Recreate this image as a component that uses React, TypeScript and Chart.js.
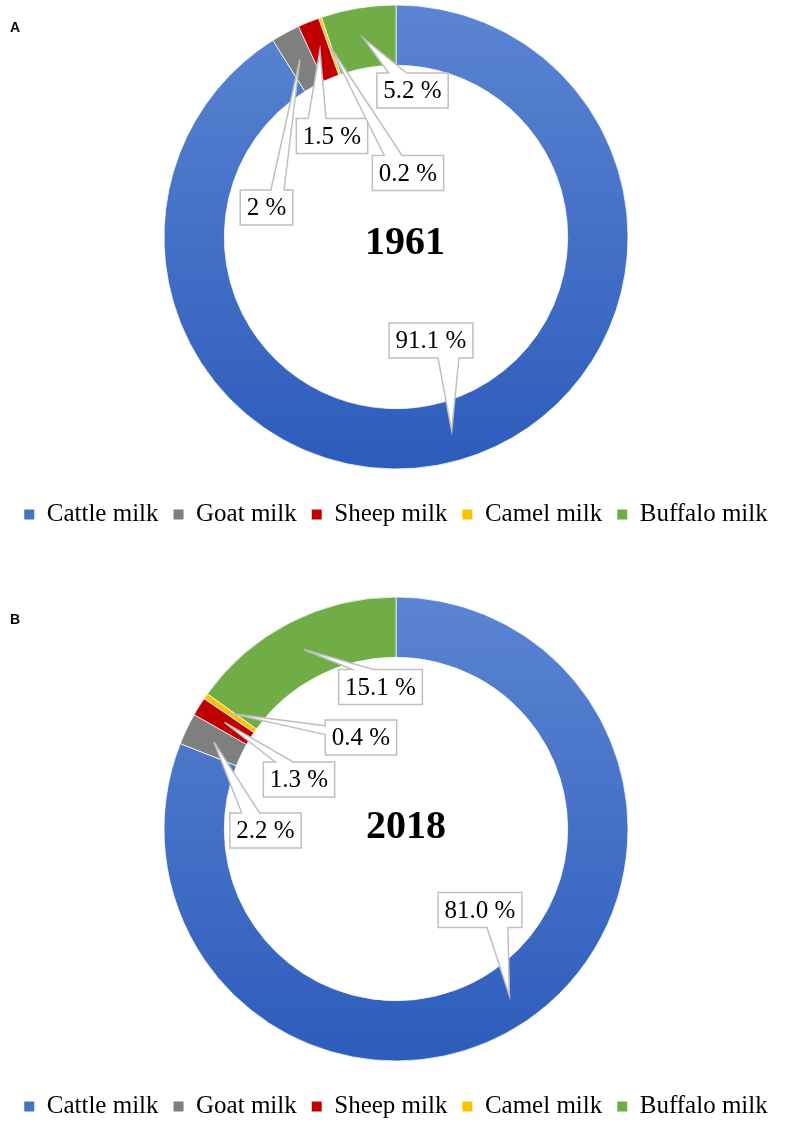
import React, { useEffect, useRef } from 'react';
import { Chart, registerables } from 'chart.js';

Chart.register(...registerables);

// ---- data ----
const categories = ['Cattle milk', 'Goat milk', 'Sheep milk', 'Camel milk', 'Buffalo milk'];
const values1961 = [91.1, 2, 1.5, 0.2, 5.2];
const values2018 = [81.0, 2.2, 1.3, 0.4, 15.1];
const years = ['1961', '2018'];
const panels = ['A', 'B'];

// ---- styles / layout ----
const sliceColors = ['#4472c4', '#7f7f7f', '#c00000', '#ffc000', '#70ad47'];
const cattleGradient = ['#5b84d2', '#2d5cbb'];
// label box centre offsets from ring centre (px)
const offsets1961 = [[35, 103.5], [-129.5, -29.5], [-64, -101], [12, -64], [16.5, -146.5]];
const offsets2018 = [[84, 81], [-130.5, 1.5], [-97, -49.5], [-35, -91.5], [-15.5, -142]];

const SERIF = '"Liberation Serif", "Times New Roman", serif';
const SANS = '"Liberation Sans", Arial, sans-serif';
const RING_R = 232;
const CANVAS_TOP = -13;
const PANEL_GAP = 592;

function calloutPath(ctx: CanvasRenderingContext2D, l: number, t: number, w: number, h: number, tx: number, ty: number) {
  const r = l + w, b = t + h;
  const hc = l + w / 2, vc = t + h / 2;
  const dxPos = tx - hc, dyPos = ty - vc;
  const dq = (dxPos * h) / w;
  const dz = Math.abs(dyPos) - Math.abs(dq);
  const x1 = l + (w * (dxPos > 0 ? 7 : 2)) / 12;
  const x2 = l + (w * (dxPos > 0 ? 10 : 5)) / 12;
  const y1 = t + (h * (dyPos > 0 ? 7 : 2)) / 12;
  const y2 = t + (h * (dyPos > 0 ? 10 : 5)) / 12;
  ctx.beginPath();
  ctx.moveTo(l, t);
  if (dz > 0 && dyPos < 0) { ctx.lineTo(x1, t); ctx.lineTo(tx, ty); ctx.lineTo(x2, t); }
  ctx.lineTo(r, t);
  if (dz <= 0 && dxPos > 0) { ctx.lineTo(r, y1); ctx.lineTo(tx, ty); ctx.lineTo(r, y2); }
  ctx.lineTo(r, b);
  if (dz > 0 && dyPos > 0) { ctx.lineTo(x2, b); ctx.lineTo(tx, ty); ctx.lineTo(x1, b); }
  ctx.lineTo(l, b);
  if (dz <= 0 && dxPos < 0) { ctx.lineTo(l, y2); ctx.lineTo(tx, ty); ctx.lineTo(l, y1); }
  ctx.closePath();
}

const calloutPlugin = {
  id: 'callouts',
  afterDatasetsDraw(chart: any, _args: any, opts: any) {
    const ctx: CanvasRenderingContext2D = chart.ctx;
    const meta = chart.getDatasetMeta(0);
    const data: number[] = chart.data.datasets[0].data;
    if (!meta.data.length) return;
    const cx = meta.data[0].x, cy = meta.data[0].y;
    ctx.save();
    ctx.font = '25px ' + SERIF;
    ctx.textAlign = 'center';
    ctx.textBaseline = 'middle';
    meta.data.forEach((arc: any, i: number) => {
      const tip = arc.getCenterPoint();
      const text = opts.format(data[i]) + ' %';
      const tw = ctx.measureText(text).width;
      const w = tw + 13, h = 35;
      const bx = cx + opts.offsets[i][0], by = cy + opts.offsets[i][1];
      const l = bx - w / 2, t = by - h / 2;
      calloutPath(ctx, l, t, w, h, tip.x, tip.y);
      ctx.fillStyle = '#ffffff';
      ctx.fill();
      ctx.lineWidth = 1.5;
      ctx.strokeStyle = '#bfbfbf';
      ctx.stroke();
      ctx.fillStyle = '#000000';
      ctx.fillText(text, bx, by + 1);
    });
    ctx.font = 'bold 40px ' + SERIF;
    ctx.fillText(opts.title, cx + opts.titleOffset[0], cy + opts.titleOffset[1]);
    ctx.font = 'bold 14px ' + SANS;
    ctx.textAlign = 'left';
    ctx.textBaseline = 'alphabetic';
    ctx.fillText(opts.panel, 10, 32 - CANVAS_TOP);
    ctx.restore();
  },
};

type PanelProps = {
  top: number;
  values: number[];
  year: string;
  panel: string;
  offsets: number[][];
  format: (v: number) => string;
  titleOffset: number[];
};

function DonutPanel({ top, values, year, panel, offsets, format, titleOffset }: PanelProps) {
  const ref = useRef<HTMLCanvasElement | null>(null);
  useEffect(() => {
    if (!ref.current) return;
    const chart = new Chart(ref.current, {
      type: 'doughnut',
      data: {
        labels: categories,
        datasets: [
          {
            data: values,
            backgroundColor: (c: any) => {
              if (c.dataIndex !== 0) return sliceColors[c.dataIndex];
              const area = c.chart.chartArea;
              if (!area) return sliceColors[0];
              const cy = (area.top + area.bottom) / 2;
              const g = c.chart.ctx.createLinearGradient(0, cy - RING_R, 0, cy + RING_R);
              g.addColorStop(0, cattleGradient[0]);
              g.addColorStop(1, cattleGradient[1]);
              return g;
            },
            borderColor: '#ffffff',
            borderWidth: 0.75,
          },
        ],
      },
      options: {
        responsive: false,
        animation: false,
        events: [],
        radius: RING_R,
        cutout: '74%',
        layout: { padding: { top: 0, left: 7, right: 0, bottom: 10 } },
        plugins: {
          tooltip: { enabled: false },
          legend: {
            display: true,
            position: 'bottom',
            labels: {
              boxWidth: 10,
              boxHeight: 10,
              padding: 15,
              color: '#000000',
              font: { family: SERIF, size: 25 },
              generateLabels: (ch: any) => {
                const items = (Chart as any).overrides.doughnut.plugins.legend.labels.generateLabels(ch);
                return items.map((it: any, i: number) => ({
                  ...it,
                  fillStyle: sliceColors[i],
                  strokeStyle: sliceColors[i],
                  lineWidth: 0,
                }));
              },
            },
          },
          callouts: { offsets, format, title: year, panel, titleOffset },
        } as any,
      } as any,
      plugins: [calloutPlugin],
    });
    return () => chart.destroy();
  }, []);
  return (
    <div style={{ position: 'absolute', left: 0, top, width: 785, height: 560 }}>
      <canvas ref={ref} width={785} height={560} style={{ width: 785, height: 560, display: 'block' }} />
    </div>
  );
}

export default function App() {
  return (
    <div
      style={{
        position: 'absolute',
        left: 0,
        top: 0,
        width: 785,
        height: 1123,
        overflow: 'hidden',
        background: '#ffffff',
      }}
    >
      <DonutPanel
        top={CANVAS_TOP}
        values={values1961}
        year={years[0]}
        panel={panels[0]}
        offsets={offsets1961}
        format={(v) => String(v)}
        titleOffset={[9, 7]}
      />
      <DonutPanel
        top={CANVAS_TOP + PANEL_GAP}
        values={values2018}
        year={years[1]}
        panel={panels[1]}
        offsets={offsets2018}
        format={(v) => v.toFixed(1)}
        titleOffset={[10, -1]}
      />
    </div>
  );
}
